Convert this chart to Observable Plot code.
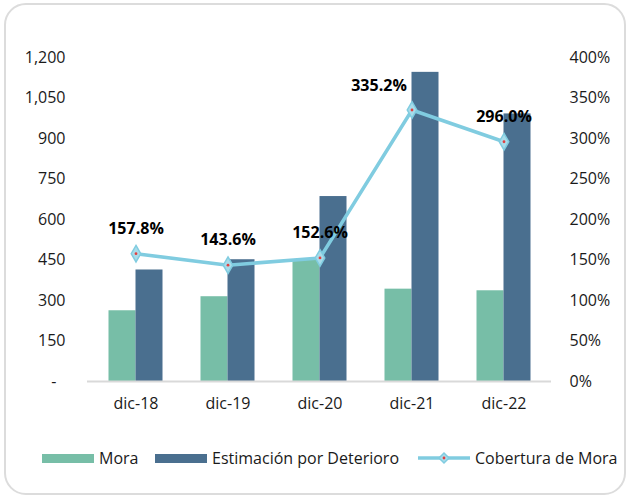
<!DOCTYPE html>
<html>
<head>
<meta charset="utf-8">
<script src="https://cdn.jsdelivr.net/npm/d3@7"></script>
<script src="https://cdn.jsdelivr.net/npm/@observablehq/plot@0.6"></script>
<style>
  html, body { margin: 0; padding: 0; background: #fff; overflow: hidden; }
  #wrap { position: relative; width: 626px; height: 496px; font-family: 'Open Sans', sans-serif; overflow: hidden; }
  #frame { position: absolute; left: 4px; top: 3px; width: 622px; height: 492px;
           border: 2px solid #dcdcdc; border-radius: 22px; box-sizing: border-box; }
  #chart { position: absolute; left: 0; top: 0; }
  #legend { position: absolute; left: 0; top: 447px; width: 626px; height: 22px;
            font-size: 16px; color: #1a1a1a; }
  .item { position: absolute; top: 0; height: 22px; line-height: 22px; white-space: nowrap; }
  .sw { position: absolute; top: 7px; width: 52px; height: 9px; }
  .lab { position: absolute; top: 0; }
</style>
</head>
<body>
<div id="wrap">
  <div id="frame"></div>
  <div id="chart"></div>
  <div id="legend"></div>
</div>
<script>
const categories = ["dic-18", "dic-19", "dic-20", "dic-21", "dic-22"];
const mora = [262, 314, 450, 342, 336];
const estimacion = [413, 451, 685, 1145, 991];
const cobertura = [157.8, 143.6, 152.6, 335.2, 296.0];
const leftTicks = [0, 150, 300, 450, 600, 750, 900, 1050, 1200];
const rightTicks = [0, 50, 100, 150, 200, 250, 300, 350, 400];
const seriesNames = ["Mora", "Estimación por Deterioro", "Cobertura de Mora"];

const colMora = "#77BEA7";
const colEst = "#4A6F8F";
const colLine = "#80CCE0";

const leftMax = leftTicks[leftTicks.length - 1];
const rightMax = rightTicks[rightTicks.length - 1];
const k = leftMax / rightMax;

const data = categories.map((c, i) => ({cat: c, mora: mora[i], est: estimacion[i], cob: cobertura[i]}));

const chart = Plot.plot({
  width: 626,
  height: 430,
  marginLeft: 87,
  marginRight: 75,
  marginTop: 57,
  marginBottom: 49,
  x: {domain: categories, paddingInner: 0.709, paddingOuter: 0.3545},
  y: {domain: [0, leftMax]},
  style: {fontFamily: "'Open Sans', sans-serif", fontSize: "16px", color: "#1a1a1a", background: "transparent", overflow: "visible"},
  marks: [
    Plot.barY(data, {x: "cat", y: "mora", fill: colMora, dx: -13.5}),
    Plot.barY(data, {x: "cat", y: "est", fill: colEst, dx: 13.5}),
    Plot.ruleY([0], {stroke: "#d9d9d9", strokeWidth: 2}),
    Plot.axisY(leftTicks, {anchor: "left", tickSize: 0, tickPadding: 22, label: null,
      tickFormat: d => d === 0 ? "-\u2007" : d3.format(",")(d)}),
    Plot.axisY(rightTicks.map(p => p * k), {anchor: "right", tickSize: 0, tickPadding: 18, label: null,
      tickFormat: d => Math.round(d / k) + "%"}),
    Plot.axisX({tickSize: 0, tickPadding: 16, label: null}),
    Plot.lineY(data, {x: "cat", y: d => d.cob * k, stroke: colLine, strokeWidth: 3.5}),
    Plot.dot(data, {x: "cat", y: d => d.cob * k, symbol: "diamond", r: 5, fill: "#A8DCEA", stroke: colLine, strokeWidth: 1.5}),
    Plot.dot(data, {x: "cat", y: d => d.cob * k, r: 1.4, fill: "#E04040"}),
    Plot.text(data.filter(d => d.cat !== "dic-21"), {x: "cat", y: d => d.cob * k, text: d => d.cob.toFixed(1) + "%",
      dy: -25, fontWeight: "bold", fill: "#000"}),
    Plot.text(data.filter(d => d.cat === "dic-21"), {x: "cat", y: d => d.cob * k, text: d => d.cob.toFixed(1) + "%",
      dy: -24, dx: -33, fontWeight: "bold", fill: "#000"})
  ]
});
document.getElementById("chart").appendChild(chart);

// legend
const legend = document.getElementById("legend");
const items = [
  {name: seriesNames[0], left: 42, type: "bar", color: colMora},
  {name: seriesNames[1], left: 155, type: "bar", color: colEst},
  {name: seriesNames[2], left: 417, type: "line", color: colLine}
];
for (const it of items) {
  const el = document.createElement("div");
  el.className = "item";
  el.style.left = it.left + "px";
  if (it.type === "bar") {
    el.innerHTML = `<div class="sw" style="left:0;background:${it.color}"></div><span class="lab" style="left:57px">${it.name}</span>`;
  } else {
    el.innerHTML = `<svg width="54" height="22" style="position:absolute;left:0;top:0">
      <line x1="1" x2="53" y1="11" y2="11" stroke="${it.color}" stroke-width="3.5"/>
      <path d="M27,6 L32,11 L27,16 L22,11 Z" fill="#A8DCEA" stroke="${it.color}" stroke-width="1.5"/>
      <circle cx="27" cy="11" r="1.4" fill="#E04040"/></svg><span class="lab" style="left:58px">${it.name}</span>`;
  }
  legend.appendChild(el);
}
</script>
</body>
</html>
